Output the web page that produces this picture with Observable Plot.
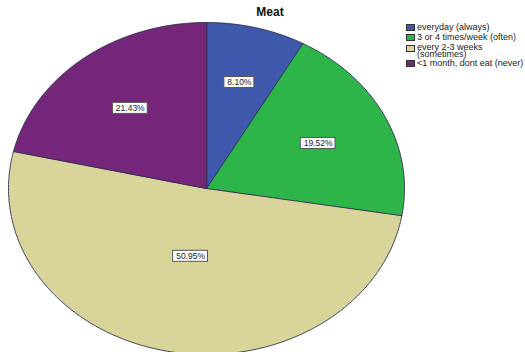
<!DOCTYPE html>
<html><head><meta charset="utf-8">
<script src="https://cdn.jsdelivr.net/npm/d3@7"></script>
<script src="https://cdn.jsdelivr.net/npm/@observablehq/plot@0.6"></script>
<style>
body{margin:0;background:#fff;font-family:"Liberation Sans",Arial,sans-serif;}
#wrap{position:relative;width:525px;height:352px;overflow:hidden;background:#fff;}
#wrap svg{position:absolute;left:0;top:0;}
#title{position:absolute;left:230px;top:5px;width:80px;text-align:center;font-weight:bold;font-size:12px;color:#111;}
#legend{position:absolute;left:406px;top:23px;width:200px;font-size:9px;color:#222;}
.item{display:flex;align-items:flex-start;margin-bottom:2px;}
.item.multi{margin-top:3px;}
.sw{width:7px;height:5px;border:1px solid #333;margin-right:2px;flex-shrink:0;margin-top:1px;}
.lab{white-space:pre;line-height:8px;}
.multi .lab{line-height:6.5px;}
</style></head><body><div id="wrap"><div id="title"></div><div id="legend"></div></div>
<script>
const title = "Meat";
const categories = ["everyday (always)", "3 or 4 times/week (often)", "every 2-3 weeks\n(sometimes)", "<1 month, dont eat (never)"];
const percents = [8.10, 19.52, 50.95, 21.43];
const colors = ["#3e58ac", "#2eb54a", "#d8d49a", "#76267a"];

// geometry derived from data
const total = d3.sum(percents);
const slicePts = [];
const labels = [];
let acc = 0;
categories.forEach((cat, i) => {
  const a0 = acc / total * 2 * Math.PI;
  acc += percents[i];
  const a1 = acc / total * 2 * Math.PI;
  slicePts.push({cat, x: 0, y: 0});
  const n = Math.max(2, Math.ceil((a1 - a0) / (Math.PI / 360)));
  for (let k = 0; k <= n; k++) {
    const a = a0 + (a1 - a0) * k / n;
    slicePts.push({cat, x: Math.sin(a), y: Math.cos(a)});
  }
  const alpha = a1 - a0, mid = (a0 + a1) / 2;
  const r = 4 * Math.sin(alpha / 2) / (3 * alpha);
  const text = percents[i].toFixed(2) + "%";
  const lx = r * Math.sin(mid), ly = r * Math.cos(mid);
  const hw = (text.length * 4.8 + 6) / 2 / 198, hh = 5.5 / 166;
  labels.push({text, x: lx, y: ly, x1: lx - hw, x2: lx + hw, y1: ly - hh, y2: ly + hh});
});

const plot = Plot.plot({
  width: 525, height: 352,
  style: {background: "transparent", fontFamily: "Liberation Sans, Arial, sans-serif"},
  x: {domain: [-1, 1], range: [8, 404], axis: null},
  y: {domain: [-1, 1], range: [354, 22], axis: null},
  color: {domain: categories, range: colors},
  marks: [
    Plot.line(slicePts, {x: "x", y: "y", z: "cat", fill: "cat", stroke: "#2a2d4e", strokeWidth: 0.9, curve: "linear-closed"}),
    Plot.rect(labels, {x1: "x1", x2: "x2", y1: "y1", y2: "y2", fill: "white", stroke: "#555", strokeWidth: 1}),
    Plot.text(labels, {x: "x", y: "y", text: "text", fontSize: 8.5, fill: "#222"})
  ]
});
const wrap = document.getElementById("wrap");
wrap.insertBefore(plot, wrap.firstChild);
document.getElementById("title").textContent = title;
const leg = d3.select("#legend");
categories.forEach((c, i) => {
  const it = leg.append("div").attr("class", c.includes("\n") ? "item multi" : "item");
  it.append("div").attr("class", "sw").style("background", colors[i]);
  it.append("div").attr("class", "lab").text(c);
});
</script></body></html>
